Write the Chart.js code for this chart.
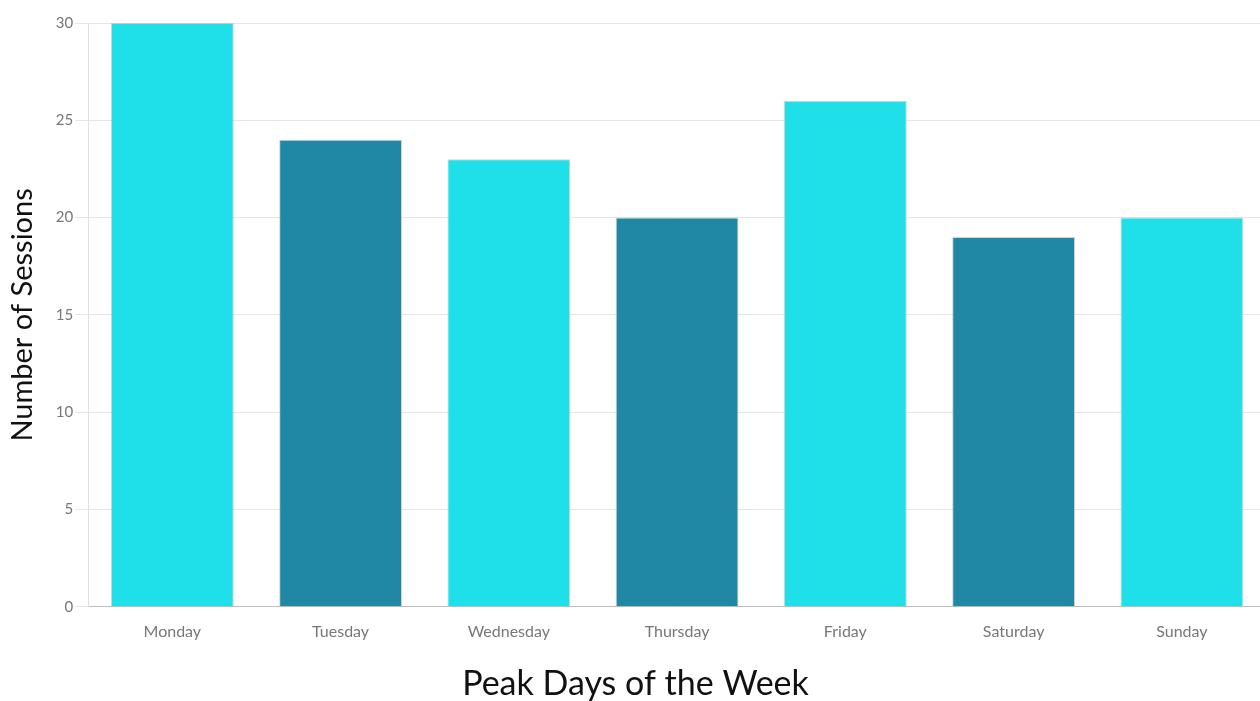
<!DOCTYPE html>
<html><head><meta charset="utf-8">
<script src="https://cdn.jsdelivr.net/npm/chart.js@4/dist/chart.umd.min.js"></script>
<style>
html,body{margin:0;padding:0;background:#fff;overflow:hidden;}
#wrap{width:1266px;height:701px;position:relative;}
</style></head>
<body><div id="wrap"><canvas id="c"></canvas></div>
<script>
const categories = ["Monday","Tuesday","Wednesday","Thursday","Friday","Saturday","Sunday"];
const sessions = [30,24,23,20,26,19,20];
const yTicks = [0,5,10,15,20,25,30];
const xTitle = "Peak Days of the Week";
const yTitle = "Number of Sessions";
const cyan = "#1fe0e8", teal = "#2088a4";
const colors = categories.map((_,i)=> i%2===0 ? cyan : teal);

new Chart(document.getElementById('c'), {
  type: 'bar',
  data: { labels: categories, datasets: [{ data: sessions, backgroundColor: colors, borderColor: 'rgba(180,180,180,0.6)', borderWidth: 1, barPercentage: 0.73, categoryPercentage: 1 }] },
  options: {
    responsive: true, maintainAspectRatio: false, animation: false,
    layout: { padding: { top: 23, right: 0, left: 5, bottom: 0 } },
    plugins: {
      legend: { display: false }, tooltip: { enabled: false },
      title: { display: true, position: 'bottom', text: xTitle, color: '#111', font: { family: 'Lato', size: 34, weight: 'normal', lineHeight: 1.0 }, padding: { top: 19, bottom: 0 } }
    },
    scales: {
      x: {
        grid: { display: false },
        border: { color: '#bdbdbd', width: 1 },
        ticks: { color: '#777', font: { family: 'Lato', size: 16 }, padding: 7 }
      },
      y: {
        min: 0, max: 30,
        afterBuildTicks: (ax) => { ax.ticks = yTicks.map(v => ({ value: v })); },
        grid: { color: '#e6e6e6', tickLength: 13 },
        border: { color: '#e0e0e0', width: 1 },
        ticks: { color: '#777', font: { family: 'Lato', size: 15 }, padding: 2 },
        title: { display: true, text: yTitle, color: '#111', font: { family: 'Lato', size: 29 }, padding: { top: 0, bottom: 14 } }
      }
    }
  }
});
</script></body></html>
